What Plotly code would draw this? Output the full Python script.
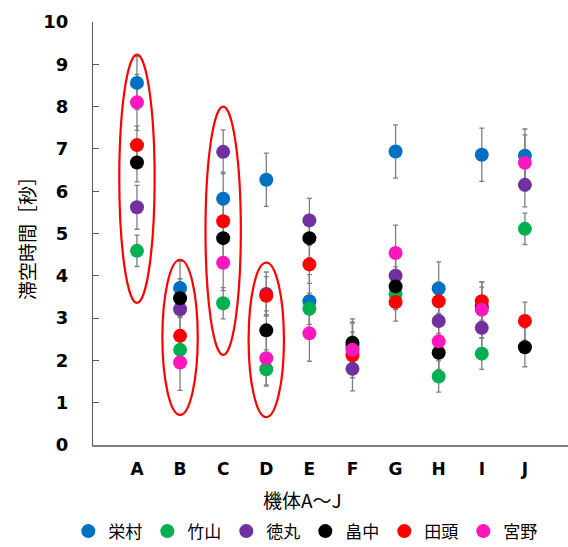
import plotly.graph_objects as go

# Machines (x axis) and observers (series)
machines = ["A", "B", "C", "D", "E", "F", "G", "H", "I", "J"]

observers = ["栄村", "竹山", "徳丸", "畠中", "田頭", "宮野"]
colors = ["#0070C0", "#00B050", "#7030A0", "#000000", "#FF0000", "#FF17BE"]

# Mean hang time per machine (seconds)
sakaemura = [8.56, 3.71, 5.82, 6.27, 3.40, 2.35, 6.94, 3.70, 6.86, 6.84]
takeyama  = [4.59, 2.25, 3.35, 1.79, 3.22, 2.30, 3.57, 1.62, 2.16, 5.11]
tokumaru  = [5.62, 3.21, 6.93, 3.57, 5.31, 1.80, 4.00, 2.93, 2.77, 6.15]
hatanaka  = [6.68, 3.47, 4.89, 2.71, 4.89, 2.42, 3.75, 2.18, 3.27, 2.31]
tagashira = [7.09, 2.58, 5.29, 3.53, 4.27, 2.12, 3.38, 3.40, 3.40, 2.93]
miyano    = [8.10, 1.95, 4.31, 2.05, 2.64, 2.25, 4.54, 2.45, 3.20, 6.67]

# Spread (±) of each observer's measurements
spread = [0.63, 0.37, 0.52, 0.46, 0.45, 0.66]

series = [sakaemura, takeyama, tokumaru, hatanaka, tagashira, miyano]

# Machines singled out with a red outline: (machine, lower, upper)
highlights = [("A", 3.36, 9.23), ("B", 0.71, 4.38), ("C", 2.13, 8.00), ("D", 0.66, 4.31)]

x_title = "機体A～J"
y_title = "滞空時間［秒］"

cjk = "Noto Sans CJK JP"

fig = go.Figure()

# Error bars first so every marker sits on top of them
for vals, err in zip(series, spread):
    fig.add_trace(go.Scatter(
        x=machines, y=vals, mode="markers", showlegend=False, hoverinfo="skip",
        marker=dict(color="rgba(0,0,0,0)", size=1),
        error_y=dict(type="constant", value=err, color="#7F7F7F",
                     thickness=1.3, width=2.5),
    ))

for name, vals, col in zip(observers, series, colors):
    fig.add_trace(go.Scatter(
        x=machines, y=vals, name=name, mode="markers",
        marker=dict(color=col, size=14, line=dict(width=0)),
    ))

for m, lo, hi in highlights:
    i = machines.index(m)
    fig.add_shape(type="circle", xref="x", yref="y",
                  x0=i - 0.41, x1=i + 0.41, y0=lo, y1=hi,
                  line=dict(color="#FF0000", width=2.2), layer="above")

# x-axis title, set a little left of the plot centre
fig.add_annotation(text=x_title, xref="paper", yref="paper", x=0.442, y=-0.13,
                   xanchor="center", yanchor="middle", showarrow=False,
                   font=dict(family=cjk, size=19, color="#000000"))

fig.update_layout(
    width=568, height=547,
    margin=dict(l=93, r=0, t=22, b=102, autoexpand=False),
    plot_bgcolor="white", paper_bgcolor="white",
    showlegend=True,
    legend=dict(orientation="h", x=-0.052, xanchor="left", y=-0.162, yanchor="top",
                font=dict(family=cjk, size=17, color="#000000"),
                itemwidth=30, entrywidth=34, entrywidthmode="pixels",
                traceorder="normal"),
)
fig.update_xaxes(
    type="category", range=[-1.02, 10.0],
    showline=True, linecolor="#7F7F7F", linewidth=1.5,
    showgrid=False, zeroline=False, ticks="",
    tickfont=dict(family="DejaVu Sans", size=17, weight="bold", color="#000000"),
    ticklabelstandoff=8,
)
fig.update_yaxes(
    range=[0, 10], dtick=1, tick0=0,
    showline=True, linecolor="#595959", linewidth=1,
    showgrid=False, zeroline=False,
    ticks="inside", ticklen=6, tickcolor="#595959",
    tickfont=dict(family="DejaVu Sans", size=18, weight="bold", color="#000000"),
    ticklabelstandoff=20,
    title=dict(text=y_title, font=dict(family=cjk, size=19, color="#000000"), standoff=2),
)

fig.write_html("out.html")
